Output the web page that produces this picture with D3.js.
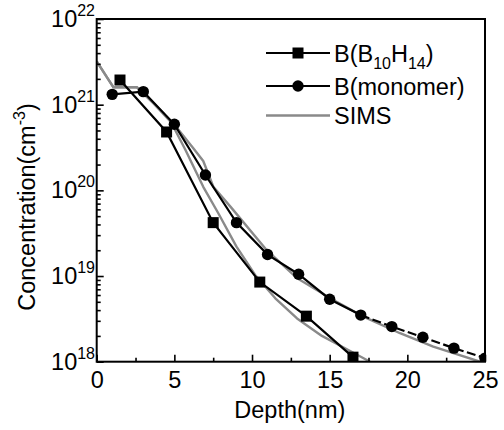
<!DOCTYPE html>
<html>
<head>
<meta charset="utf-8">
<script src="https://cdn.jsdelivr.net/npm/d3@7"></script>
<style>
  body { margin: 0; background: #fff; }
  svg { display: block; font-family: "Liberation Sans", Arial, sans-serif; }
</style>
</head>
<body>
<script>
"use strict";

// B(B10H14) simulated profile: depth (nm), concentration (cm^-3)
const decaDepth = [1.5, 4.5, 7.5, 10.5, 13.5, 16.5];
const decaConc  = [1.94e21, 4.8e20, 4.2e19, 8.5e18, 3.4e18, 1.13e18];

// B(monomer) simulated profile
const monoDepth = [1, 3, 5, 7, 9, 11, 13, 15, 17, 19, 21, 23, 25];
const monoConc  = [1.32e21, 1.42e21, 5.9e20, 1.51e20, 4.2e19, 1.78e19, 1.05e19,
                   5.36e18, 3.5e18, 2.57e18, 1.93e18, 1.44e18, 1.1e18];

// SIMS profiles (two measured curves)
const simsADepth = [0, 1.07, 2.58, 3.65, 4.93, 6.22, 6.86, 7.51, 8.69, 10.95, 12.88, 15.24, 17.17, 19.53, 21.67, 24.68];
const simsAConc  = [3.2e21, 1.6e21, 1.6e21, 1.04e21, 6.07e20, 3.1e20, 2.2e20, 1.1e20, 6.2e19,
                    2.0e19, 9.5e18, 5.25e18, 3.36e18, 2.15e18, 1.5e18, 1.0e18];
const simsBDepth = [0, 1.07, 2.58, 3.65, 4.8, 5.7, 6.86, 7.83, 9, 10.2, 11.5, 12.9, 14.5, 16.2, 17.6];
const simsBConc  = [3.2e21, 1.6e21, 1.6e21, 1.04e21, 6.2e20, 3.0e20, 1.1e20, 5.4e19, 2.2e19,
                    1.03e19, 5.5e18, 3.2e18, 2.0e18, 1.37e18, 1.0e18];

const xTicks = [0, 5, 10, 15, 20, 25];
const xMinor = [2.5, 7.5, 12.5, 17.5, 22.5];
const yExps  = [18, 19, 20, 21, 22];

const legendNames = ["B(B10H14)", "B(monomer)", "SIMS"];

(function()
{
	const W = 504, H = 430;
	const mLeft = 96.7, mRight = 485, mTop = 19, mBottom = 361.7;
	const grey = "#8a8a8a";
	const fs = 23.5, fsSmall = 16;

	const x = d3.scaleLinear().domain([0, 25]).range([mLeft, mRight]);
	const y = d3.scaleLog().domain([1e18, 1e22]).range([mBottom, mTop]);

	const svg = d3.select("body").append("svg")
		.attr("width", W)
		.attr("height", H);

	svg.append("defs").append("clipPath")
		.attr("id", "plotclip")
		.append("rect")
		.attr("x", mLeft).attr("y", mTop)
		.attr("width", mRight - mLeft).attr("height", mBottom - mTop);

	const zip = (a, b) => a.map((d, i) => [d, b[i]]);
	const line = d3.line()
		.x(d => x(d[0]))
		.y(d => y(d[1]));

	const plot = svg.append("g").attr("clip-path", "url(#plotclip)");

	// SIMS curves
	[zip(simsADepth, simsAConc), zip(simsBDepth, simsBConc)].forEach(pts => {
		plot.append("path")
			.attr("d", line(pts))
			.attr("fill", "none")
			.attr("stroke", grey)
			.attr("stroke-width", 2.4)
			.attr("stroke-linejoin", "round");
	});

	// B10H14 line
	const deca = zip(decaDepth, decaConc);
	plot.append("path")
		.attr("d", line(deca))
		.attr("fill", "none")
		.attr("stroke", "#000")
		.attr("stroke-width", 2.2);

	// monomer line: solid head, dashed tail
	const mono = zip(monoDepth, monoConc);
	plot.append("path")
		.attr("d", line(mono.slice(0, 9)))
		.attr("fill", "none")
		.attr("stroke", "#000")
		.attr("stroke-width", 2.2);
	plot.append("path")
		.attr("d", line(mono.slice(8)))
		.attr("fill", "none")
		.attr("stroke", "#000")
		.attr("stroke-width", 2.2)
		.attr("stroke-dasharray", "9,3.5");

	// markers
	plot.selectAll("rect.sq").data(deca).enter().append("rect")
		.attr("class", "sq")
		.attr("x", d => x(d[0]) - 5.5)
		.attr("y", d => y(d[1]) - 5.5)
		.attr("width", 11).attr("height", 11)
		.attr("fill", "#000");
	plot.selectAll("circle.ci").data(mono).enter().append("circle")
		.attr("class", "ci")
		.attr("cx", d => x(d[0]))
		.attr("cy", d => y(d[1]))
		.attr("r", 5.7)
		.attr("fill", "#000");

	// axes
	const xAxis = svg.append("g")
		.attr("transform", "translate(0," + mBottom + ")")
		.call(d3.axisBottom(x).tickValues(xTicks).tickSize(-7).tickPadding(10).tickFormat(d3.format("d")));
	svg.append("g")
		.attr("transform", "translate(0," + mBottom + ")")
		.call(d3.axisBottom(x).tickValues(xMinor).tickSize(-4).tickFormat(""));
	xAxis.selectAll("text")
		.attr("font-size", fs)
		.attr("font-family", "Liberation Sans, Arial, sans-serif")
		.attr("fill", "#000");

	const yMajor = yExps.map(e => Math.pow(10, e));
	const yMinor = [];
	for (let e = 18; e < 22; e++)
		for (let m = 2; m <= 9; m++) yMinor.push(m * Math.pow(10, e));

	svg.append("g")
		.attr("transform", "translate(" + mLeft + ",0)")
		.call(d3.axisLeft(y).tickValues(yMajor).tickSize(-7).tickFormat(""));
	svg.append("g")
		.attr("transform", "translate(" + mLeft + ",0)")
		.call(d3.axisLeft(y).tickValues(yMinor).tickSize(-4).tickFormat(""));

	svg.selectAll(".domain").remove();
	svg.selectAll(".tick line").attr("stroke", "#000").attr("stroke-width", 1.6);

	// frame
	svg.append("rect")
		.attr("x", mLeft).attr("y", mTop)
		.attr("width", mRight - mLeft).attr("height", mBottom - mTop)
		.attr("fill", "none")
		.attr("stroke", "#000")
		.attr("stroke-width", 2);

	// y tick labels 10^n
	yExps.forEach(e => {
		const t = svg.append("text")
			.attr("x", 95)
			.attr("y", y(Math.pow(10, e)) + 8)
			.attr("text-anchor", "end")
			.attr("font-size", fs);
		t.append("tspan").text("10");
		t.append("tspan").attr("font-size", fsSmall).attr("dy", -11).text(e);
	});

	// axis titles
	svg.append("text")
		.attr("x", (mLeft + mRight) / 2 - 1)
		.attr("y", 418)
		.attr("text-anchor", "middle")
		.attr("font-size", fs)
		.text("Depth(nm)");

	const yl = svg.append("text")
		.attr("transform", "translate(35,207) rotate(-90)")
		.attr("text-anchor", "middle")
		.attr("font-size", fs);
	yl.append("tspan").text("Concentration(cm");
	yl.append("tspan").attr("font-size", fsSmall).attr("dy", -10).text("-3");
	yl.append("tspan").attr("dy", 10).text(")");

	// legend
	const lg = svg.append("g");
	const rows = [53, 86, 115.5];
	legendNames.forEach((name, i) => {
		const ry = rows[i];
		lg.append("line")
			.attr("x1", 266).attr("x2", 330)
			.attr("y1", ry).attr("y2", ry)
			.attr("stroke", i === 2 ? grey : "#000")
			.attr("stroke-width", i === 2 ? 2.6 : 2.2);
		if (i === 0)
			lg.append("rect").attr("x", 292.5).attr("y", ry - 5.5).attr("width", 11).attr("height", 11).attr("fill", "#000");
		if (i === 1)
			lg.append("circle").attr("cx", 298).attr("cy", ry).attr("r", 5.7).attr("fill", "#000");
		const t = lg.append("text")
			.attr("x", 334)
			.attr("y", ry + 8.5)
			.attr("font-size", fs);
		if (i === 0) {
			t.append("tspan").text("B(B");
			t.append("tspan").attr("font-size", fsSmall).attr("dy", 7).text("10");
			t.append("tspan").attr("dy", -7).text("H");
			t.append("tspan").attr("font-size", fsSmall).attr("dy", 7).text("14");
			t.append("tspan").attr("dy", -7).text(")");
		} else {
			t.text(name);
		}
	});
})();
</script>
</body>
</html>
